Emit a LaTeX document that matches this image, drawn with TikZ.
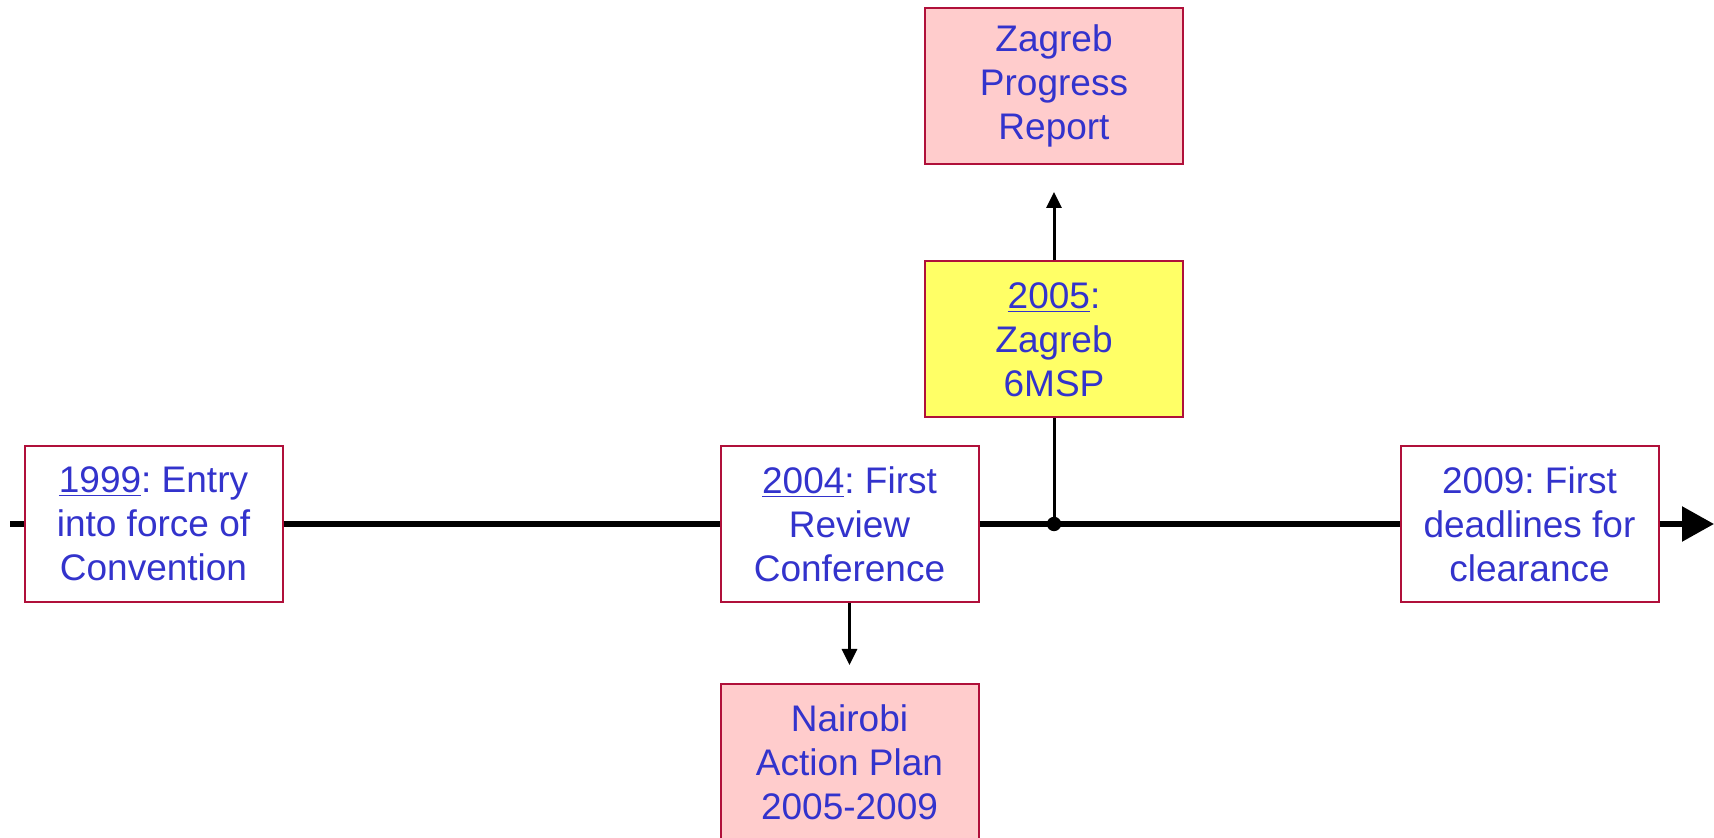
\documentclass[tikz,border=0pt]{standalone}
\usepackage{fontspec}
\setmainfont{Liberation Sans}
\usetikzlibrary{arrows.meta}
\frenchspacing
\definecolor{txtblue}{HTML}{3333CC}
\definecolor{boxred}{HTML}{B0103A}
\definecolor{pinkfill}{HTML}{FFCCCC}
\definecolor{yellowfill}{HTML}{FFFF66}
\tikzset{
  evbox/.style={draw=boxred, line width=1pt, fill=white, minimum width=129pt, minimum height=78pt,
    inner sep=0pt, align=center, text=txtblue, font=\fontsize{18.5}{22}\selectfont},
  pinkbox/.style={evbox, fill=pinkfill},
  yelbox/.style={evbox, fill=yellowfill},
  mainline/.style={line width=2.8pt, black},
  thinline/.style={line width=1.5pt, black},
  smallarrow/.style={thinline, -{Triangle[length=8pt,width=7.5pt]}}
}
\begin{document}
\begin{tikzpicture}[x=0.5pt,y=-0.5pt]
\useasboundingbox (0,0) rectangle (1714,838);
\node[evbox] (n1999) at (153.5,524) {\underline{1999}: Entry\\into force of\\Convention};
\node[evbox] (n2004) at (849.5,524) {\underline{2004}: First\\Review\\Conference};
\node[pinkbox] (nairobi) at (849.5,762) {Nairobi\\Action Plan\\2005-2009};
\node[yelbox] (n2005) at (1054,339.5) {\underline{2005}:\\Zagreb\\6MSP};
\node[pinkbox] (report) at (1054,86) {Zagreb\\Progress\\Report};
\node[evbox] (n2009) at (1529.5,524) {2009: First\\deadlines for\\clearance};
\coordinate (start) at (10,524);
\coordinate (dot) at (1054,524);
\coordinate (endtip) at (1714,524);
\coordinate (uptip) at (1054,192);
\coordinate (downtip) at (849.5,665);
\draw[mainline] (start) -- (n1999.west);
\draw[mainline] (n1999.east) -- (n2004.west);
\draw[mainline] (n2004.east) -- (dot) -- (n2009.west);
\draw[mainline, -{Triangle[length=16pt,width=17pt]}] (n2009.east) -- (endtip);
\draw[thinline] (dot) -- (n2005.south);
\fill[black] (dot) circle (3.6pt);
\draw[smallarrow] (n2005.north) -- (uptip);
\draw[smallarrow] (n2004.south) -- (downtip);
\end{tikzpicture}
\end{document}
